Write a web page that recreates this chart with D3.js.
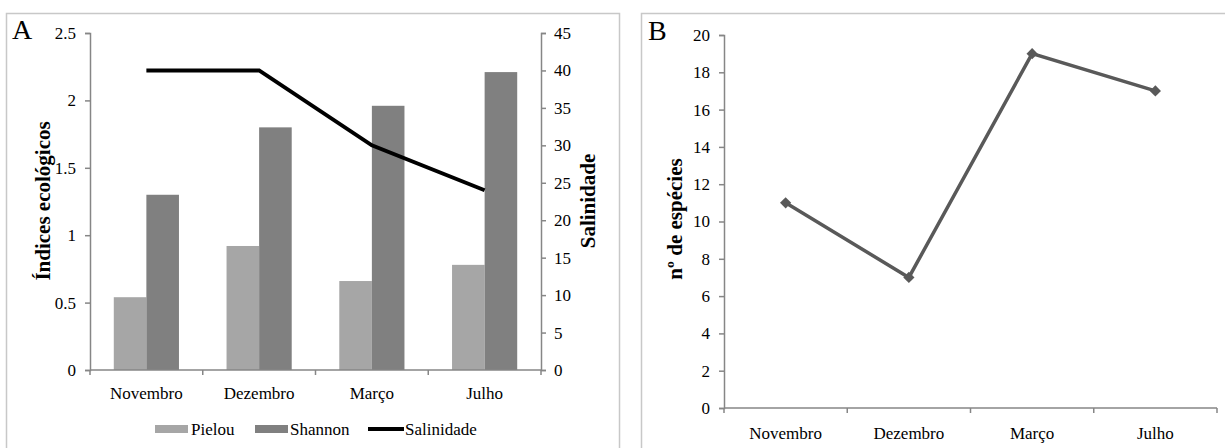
<!DOCTYPE html>
<html><head><meta charset="utf-8">
<script src="https://cdn.jsdelivr.net/npm/d3@7"></script>
<style>body{margin:0;background:#fff}svg{display:block}svg text{font-family:"Liberation Serif","Times New Roman",serif !important;fill:#000}</style>
</head><body><svg id="c" width="1225" height="448"></svg>
<script>
const months = ["Novembro","Dezembro","Março","Julho"];
const pielou = [0.54, 0.92, 0.66, 0.78];
const shannon = [1.30, 1.80, 1.96, 2.21];
const salinidade = [40, 40, 30, 24];
const especies = [11, 7, 19, 17];
const leftTicks = [0, 0.5, 1, 1.5, 2, 2.5];
const rightTicks = [0,5,10,15,20,25,30,35,40,45];
const bTicks = [0,2,4,6,8,10,12,14,16,18,20];

const svg = d3.select("#c");
const axisCol = "#868686";
const FS = "17px";
const SERIF = "'Liberation Serif','Times New Roman',serif";

// panel frames
svg.append("rect").attr("x",6.5).attr("y",13.5).attr("width",613).attr("height",460).attr("fill","none").attr("stroke","#c8c8c8").attr("stroke-width",1.5);
svg.append("rect").attr("x",641.5).attr("y",13.5).attr("width",600).attr("height",460).attr("fill","none").attr("stroke","#c8c8c8").attr("stroke-width",1.5);

function styleAxis(g){
  g.attr("font-family",SERIF).attr("font-size",17);
  g.selectAll("path,line").attr("stroke",axisCol).attr("stroke-width",1.5);
  g.selectAll("text").style("font-size",FS).style("font-family",SERIF).attr("fill","#000");
}

// ---- Panel A ----
const xA = d3.scaleBand().domain(months).range([90,541]);
const yL = d3.scaleLinear().domain([0,2.5]).range([370,33]);
const yR = d3.scaleLinear().domain([0,45]).range([370,33]);
const inner = d3.scaleBand().domain(["p","s"]).range([0,xA.bandwidth()]).paddingInner(0).paddingOuter(0.73);

svg.append("g").selectAll("rect").data(months).join("rect")
  .attr("x",d=>xA(d)+inner("p")).attr("width",inner.bandwidth())
  .attr("y",(d,i)=>yL(pielou[i])).attr("height",(d,i)=>yL(0)-yL(pielou[i])).attr("fill","#a6a6a6");
svg.append("g").selectAll("rect").data(months).join("rect")
  .attr("x",d=>xA(d)+inner("s")).attr("width",inner.bandwidth())
  .attr("y",(d,i)=>yL(shannon[i])).attr("height",(d,i)=>yL(0)-yL(shannon[i])).attr("fill","#808080");

const gL = svg.append("g").attr("transform","translate(90,0)")
  .call(d3.axisLeft(yL).tickValues(leftTicks).tickSize(5).tickPadding(9).tickFormat(d3.format("")));
styleAxis(gL);
const gR = svg.append("g").attr("transform","translate(541,0)")
  .call(d3.axisRight(yR).tickValues(rightTicks).tickSize(5).tickPadding(8).tickFormat(d3.format("")));
styleAxis(gR);
const gXA = svg.append("g").attr("transform","translate(0,370)")
  .call(d3.axisBottom(xA).tickSize(0).tickPadding(17));
styleAxis(gXA);
gXA.select(".domain").attr("d","M90,0H541");
gXA.selectAll(".sep").data(months.concat(["end"])).join("line")
  .attr("x1",(d,i)=>90+i*xA.bandwidth()).attr("x2",(d,i)=>90+i*xA.bandwidth())
  .attr("y1",0).attr("y2",5).attr("stroke",axisCol).attr("stroke-width",1.5);

const line = d3.line().x((d,i)=>xA(months[i])+xA.bandwidth()/2).y(d=>yR(d));
svg.append("path").datum(salinidade).attr("d",line).attr("fill","none").attr("stroke","#000").attr("stroke-width",4);

function txt(x,y,s,size,bold,rot,anchor){
  const t = svg.append("text").style("font-family",SERIF).style("font-size",size+"px")
    .attr("transform",`translate(${x},${y})`+(rot?` rotate(${rot})`:"")).text(s);
  if(bold) t.attr("font-weight","bold");
  if(anchor) t.attr("text-anchor",anchor);
  return t;
}
txt(12,39,"A",28);
txt(50,201,"Índices ecológicos",21,true,-90,"middle");
txt(595,201,"Salinidade",21,true,-90,"middle");

// legend A
svg.append("rect").attr("x",155).attr("y",425).attr("width",33).attr("height",8).attr("fill","#a6a6a6");
txt(191,435,"Pielou",17);
svg.append("rect").attr("x",255).attr("y",425).attr("width",33).attr("height",8).attr("fill","#808080");
txt(290,435,"Shannon",17);
svg.append("line").attr("x1",368).attr("x2",404).attr("y1",429).attr("y2",429).attr("stroke","#000").attr("stroke-width",4);
txt(405,435,"Salinidade",17);

// ---- Panel B ----
const xB = d3.scaleBand().domain(months).range([724,1217]);
const yB = d3.scaleLinear().domain([0,20]).range([408,35]);
const gYB = svg.append("g").attr("transform","translate(724,0)")
  .call(d3.axisLeft(yB).tickValues(bTicks).tickSize(5).tickPadding(9).tickFormat(d3.format("")));
styleAxis(gYB);
const gXB = svg.append("g").attr("transform","translate(0,408)")
  .call(d3.axisBottom(xB).tickSize(0).tickPadding(19));
styleAxis(gXB);
gXB.select(".domain").attr("d","M724,0H1217");
gXB.selectAll(".sep").data(months.concat(["end"])).join("line")
  .attr("x1",(d,i)=>724+i*xB.bandwidth()).attr("x2",(d,i)=>724+i*xB.bandwidth())
  .attr("y1",0).attr("y2",5).attr("stroke",axisCol).attr("stroke-width",1.5);

const lineB = d3.line().x((d,i)=>xB(months[i])+xB.bandwidth()/2).y(d=>yB(d));
svg.append("path").datum(especies).attr("d",lineB).attr("fill","none").attr("stroke","#595959").attr("stroke-width",3.5);
svg.append("g").selectAll("path").data(especies).join("path")
  .attr("d",d3.symbol(d3.symbolDiamond2 || d3.symbolDiamond,80))
  .attr("transform",(d,i)=>`translate(${xB(months[i])+xB.bandwidth()/2},${yB(d)})`)
  .attr("fill","#595959");

txt(648,40,"B",28);
txt(682,219,"nº de espécies",21,true,-90,"middle");
</script></body></html>
